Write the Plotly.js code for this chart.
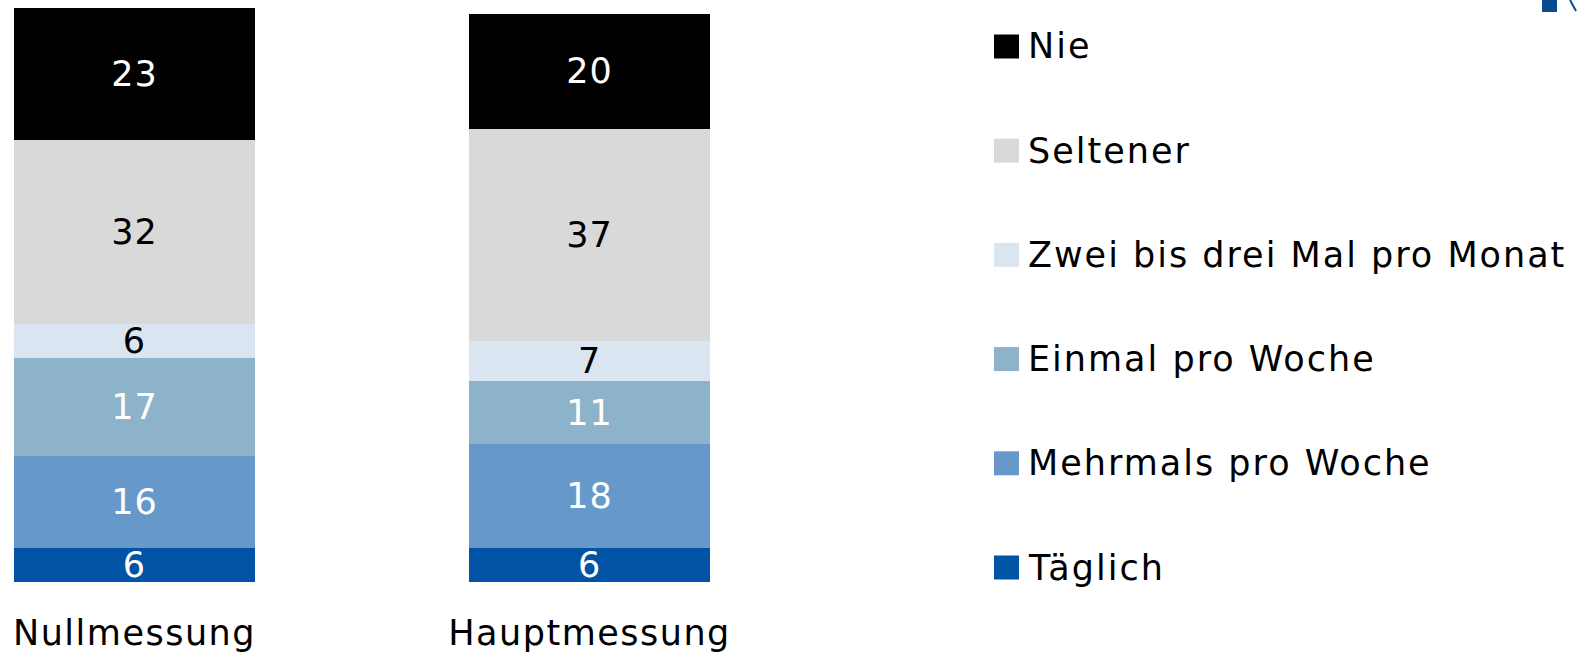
<!DOCTYPE html>
<html>
<head>
<meta charset="utf-8">
<script src="https://cdn.plot.ly/plotly-3.0.1.min.js"></script>
<style>
html,body{margin:0;padding:0;background:#fff;}
#chart{width:1577px;height:653px;}
#chart .annotation-text{letter-spacing:2px;}
#chart .xtick text{letter-spacing:1.5px;}
#chart .bartext{letter-spacing:1px;}
</style>
</head>
<body>
<div id="chart"></div>
<script>
// ---- data ----
const categories = ["Nullmessung", "Hauptmessung"];
const seriesNames = ["Täglich", "Mehrmals pro Woche", "Einmal pro Woche", "Zwei bis drei Mal pro Monat", "Seltener", "Nie"];
const taeglich = [6, 6];
const mehrmals = [16, 18];
const einmal = [17, 11];
const zweiBisDrei = [6, 7];
const seltener = [32, 37];
const nie = [23, 20];
const seriesValues = [taeglich, mehrmals, einmal, zweiBisDrei, seltener, nie];
const seriesColors = ["#0053a5", "#6699c9", "#8db3ca", "#dbe5f1", "#d9d9d9", "#000000"];
const labelColors = ["#ffffff", "#ffffff", "#ffffff", "#000000", "#000000", "#ffffff"];

const FONT = "DejaVu Sans, Verdana, sans-serif";
const FS = 35;
const LEG_LS = 2; // legend letter spacing (px), matches CSS above

const traces = seriesNames.map((name, i) => ({
  type: "bar",
  name: name,
  x: categories,
  y: seriesValues[i],
  text: seriesValues[i].map(String),
  textposition: "inside",
  insidetextanchor: "middle",
  constraintext: "none",
  textangle: 0,
  textfont: {family: FONT, size: FS, color: labelColors[i]},
  marker: {color: seriesColors[i], line: {width: 0}},
  width: 0.53,
  showlegend: false,
  hoverinfo: "name+y"
}));

// custom legend (top to bottom: Nie ... Täglich)
const W = 1577, PH = 582;
const shapes = [];
const annotations = [];
for (let k = 0; k < seriesNames.length; k++) {
  const i = seriesNames.length - 1 - k;
  const cy = 46.5 + k * 104.2;
  shapes.push({
    type: "rect", xref: "paper", yref: "paper",
    x0: 994 / W, x1: 1019 / W,
    y0: 1 - (cy + 12) / PH, y1: 1 - (cy - 12) / PH,
    fillcolor: seriesColors[i], line: {width: 0}
  });
  annotations.push({
    xref: "paper", yref: "paper",
    x: 1026 / W, y: 1 - cy / PH,
    xanchor: "left", yanchor: "middle",
    xshift: seriesNames[i].length * LEG_LS / 2,
    text: seriesNames[i], showarrow: false,
    font: {family: FONT, size: FS, color: "#000000"}
  });
}
// logo fragment top right
shapes.push({type: "rect", xref: "paper", yref: "paper", x0: 1542 / W, x1: 1557 / W, y0: 1 - 12 / PH, y1: 1 + 0.5 / PH, fillcolor: "#0b4a8f", line: {width: 0}});
shapes.push({type: "line", xref: "paper", yref: "paper", x0: 1570 / W, x1: 1576 / W, y0: 1, y1: 1 - 11 / PH, line: {color: "#0b4a8f", width: 2}});

const layout = {
  width: 1577, height: 653,
  margin: {l: 0, r: 0, t: 0, b: 71, pad: 0},
  paper_bgcolor: "#ffffff", plot_bgcolor: "#ffffff",
  barmode: "stack",
  showlegend: false,
  xaxis: {
    type: "category",
    range: [-0.2956, 3.170],
    showgrid: false, zeroline: false, showline: false, ticks: "",
    tickfont: {family: FONT, size: FS, color: "#000000"},
    ticklabelstandoff: 27
  },
  yaxis: {
    range: [0, 101.4],
    visible: false, showgrid: false, zeroline: false
  },
  shapes: shapes,
  annotations: annotations,
  font: {family: FONT}
};

Plotly.newPlot("chart", traces, layout, {displayModeBar: false, staticPlot: true});
</script>
</body>
</html>
